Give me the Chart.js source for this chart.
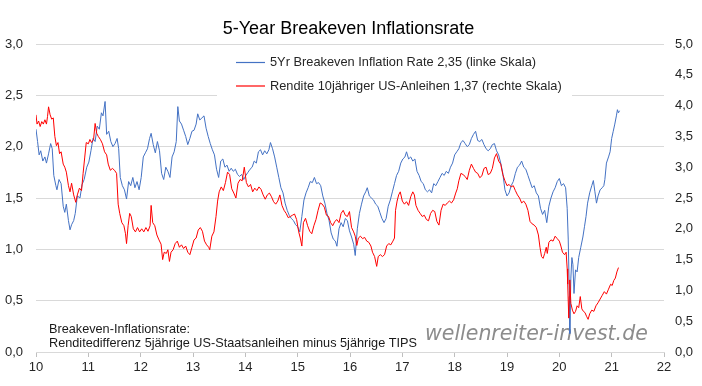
<!DOCTYPE html>
<html lang="de">
<head>
  <meta charset="UTF-8" />
  <title>5-Year Breakeven Inflationsrate</title>
  <style>
    body{margin:0;background:#fff}
    #wrap{width:702px;height:386px;position:relative}
    canvas{display:block}
  </style>
</head>
<body>
  <div id="wrap"><canvas id="chart"></canvas></div>

  <script src="https://cdn.jsdelivr.net/npm/chart.js"></script>
  <script>
  /* ---------- Daten ---------- */
  // 5Yr Breakeven Inflation Rate (linke Skala), x = Jahr (10 = 2010)
  const beDates = [10.00,10.03,10.06,10.09,10.13,10.17,10.20,10.24,10.28,10.31,10.34,10.38,10.40,10.44,10.48,10.52,10.55,10.58,10.62,10.65,
    10.68,10.72,10.75,10.79,10.84,10.88,10.92,10.97,11.01,11.05,11.09,11.13,11.17,11.21,11.25,11.28,11.32,11.35,11.39,11.43,
    11.47,11.51,11.55,11.58,11.61,11.65,11.69,11.73,11.77,11.81,11.85,11.89,11.93,11.97,12.01,12.05,12.09,12.13,12.17,12.20,
    12.24,12.28,12.32,12.36,12.40,12.44,12.48,12.52,12.56,12.60,12.64,12.68,12.71,12.74,12.78,12.82,12.86,12.90,12.94,12.98,
    13.02,13.06,13.09,13.13,13.17,13.21,13.25,13.29,13.33,13.37,13.41,13.45,13.49,13.53,13.57,13.61,13.65,13.69,13.73,13.77,
    13.81,13.85,13.89,13.93,13.97,14.01,14.05,14.09,14.13,14.17,14.21,14.25,14.29,14.33,14.37,14.41,14.45,14.48,14.52,14.56,
    14.60,14.64,14.68,14.72,14.76,14.80,14.84,14.88,14.92,14.96,15.00,15.04,15.08,15.12,15.16,15.20,15.24,15.28,15.32,15.36,
    15.40,15.44,15.48,15.52,15.56,15.60,15.64,15.68,15.72,15.75,15.79,15.83,15.87,15.91,15.95,15.99,16.03,16.07,16.10,16.14,
    16.18,16.22,16.26,16.30,16.33,16.37,16.41,16.45,16.49,16.53,16.57,16.61,16.65,16.69,16.73,16.77,16.81,16.85,16.89,16.93,
    16.97,17.01,17.05,17.08,17.12,17.16,17.20,17.24,17.28,17.32,17.36,17.40,17.44,17.48,17.52,17.56,17.60,17.64,17.68,17.72,
    17.76,17.80,17.84,17.88,17.92,17.96,18.00,18.04,18.08,18.12,18.16,18.20,18.24,18.28,18.32,18.36,18.40,18.44,18.48,18.52,
    18.56,18.60,18.64,18.68,18.72,18.76,18.80,18.84,18.88,18.92,18.96,19.00,19.04,19.08,19.12,19.16,19.20,19.24,19.28,19.32,
    19.36,19.40,19.44,19.48,19.52,19.56,19.60,19.64,19.68,19.72,19.76,19.80,19.84,19.88,19.92,19.96,20.00,20.04,20.08,20.12,
    20.15,20.17,20.19,20.20,20.22,20.24,20.26,20.28,20.31,20.34,20.37,20.41,20.45,20.48,20.51,20.54,20.58,20.62,20.65,20.68,
    20.71,20.74,20.78,20.82,20.85,20.87,20.90,20.94,20.97,21.00,21.03,21.06,21.09,21.11,21.13,21.15];
  const beValues = [2.17,2.05,1.92,1.96,1.86,1.90,1.84,1.93,2.03,1.98,1.72,1.62,1.58,1.68,1.64,1.42,1.36,1.44,1.28,1.19,
    1.24,1.28,1.35,1.52,1.50,1.63,1.68,1.80,1.85,1.96,2.08,2.05,2.20,2.17,2.33,2.30,2.44,2.12,2.15,2.05,
    2.00,2.03,2.08,1.98,1.70,1.62,1.58,1.49,1.66,1.62,1.70,1.60,1.66,1.58,1.70,1.90,1.94,1.98,2.08,2.13,
    2.02,1.94,2.05,1.96,1.74,1.68,1.80,1.76,1.70,1.90,1.95,2.05,2.39,2.25,2.22,2.16,2.10,2.02,2.08,2.15,
    2.16,2.22,2.32,2.26,2.28,2.30,2.18,2.10,2.03,1.97,1.92,1.78,1.70,1.86,1.88,1.80,1.82,1.76,1.79,1.76,
    1.78,1.73,1.71,1.73,1.68,1.72,1.75,1.78,1.80,1.86,1.84,1.95,1.97,1.92,1.96,1.93,1.97,2.04,1.98,1.90,
    1.80,1.70,1.60,1.55,1.45,1.38,1.33,1.30,1.28,1.24,1.22,1.17,1.32,1.48,1.55,1.60,1.66,1.65,1.70,1.64,
    1.65,1.62,1.52,1.45,1.35,1.28,1.16,1.10,1.08,1.03,1.20,1.26,1.22,1.30,1.28,1.18,1.12,1.05,0.94,1.20,
    1.35,1.44,1.52,1.56,1.60,1.52,1.50,1.48,1.44,1.42,1.36,1.30,1.26,1.30,1.42,1.48,1.56,1.64,1.72,1.76,
    1.84,1.88,1.90,1.95,1.88,1.90,1.86,1.88,1.76,1.72,1.66,1.64,1.58,1.56,1.58,1.55,1.64,1.62,1.66,1.70,
    1.74,1.72,1.76,1.74,1.80,1.84,1.92,1.95,1.98,2.04,2.06,2.03,2.00,2.02,2.08,2.12,2.15,2.06,2.05,2.07,
    2.02,1.98,1.96,1.98,2.02,2.03,1.96,1.92,1.84,1.74,1.58,1.52,1.55,1.62,1.66,1.74,1.80,1.82,1.86,1.80,
    1.78,1.72,1.66,1.60,1.62,1.55,1.52,1.40,1.34,1.38,1.26,1.42,1.50,1.56,1.60,1.66,1.69,1.62,1.64,1.60,
    1.40,1.10,0.60,0.18,0.72,0.92,0.85,0.57,0.80,0.78,0.92,1.02,1.12,1.22,1.32,1.45,1.55,1.62,1.67,1.56,
    1.45,1.52,1.58,1.60,1.62,1.68,1.84,1.90,1.95,2.08,2.15,2.22,2.30,2.36,2.33,2.35];

  // Rendite 10jähriger US-Anleihen (rechte Skala)
  const ylDates = [10.00,10.02,10.05,10.08,10.11,10.14,10.17,10.20,10.22,10.24,10.27,10.30,10.33,10.36,10.39,10.42,10.45,10.48,10.52,10.55,
    10.58,10.62,10.65,10.68,10.72,10.76,10.79,10.83,10.87,10.90,10.93,10.96,11.00,11.03,11.06,11.10,11.13,11.16,11.19,11.23,
    11.27,11.31,11.35,11.38,11.42,11.46,11.50,11.54,11.57,11.60,11.64,11.68,11.71,11.73,11.76,11.79,11.82,11.86,11.90,11.94,
    11.98,12.02,12.06,12.10,12.14,12.18,12.20,12.23,12.27,12.31,12.35,12.39,12.42,12.45,12.49,12.52,12.55,12.58,12.62,12.66,
    12.70,12.74,12.78,12.82,12.86,12.90,12.94,12.98,13.02,13.06,13.10,13.14,13.18,13.22,13.26,13.30,13.32,13.36,13.40,13.44,
    13.47,13.50,13.54,13.58,13.62,13.66,13.70,13.74,13.78,13.82,13.86,13.90,13.94,13.98,14.02,14.06,14.10,14.14,14.18,14.22,
    14.26,14.30,14.34,14.38,14.42,14.46,14.50,14.54,14.58,14.62,14.66,14.70,14.74,14.78,14.82,14.86,14.90,14.94,14.98,15.02,
    15.05,15.08,15.11,15.15,15.19,15.23,15.27,15.31,15.35,15.39,15.43,15.47,15.51,15.55,15.59,15.63,15.67,15.71,15.75,15.79,
    15.83,15.87,15.91,15.95,15.99,16.03,16.07,16.10,16.13,16.16,16.20,16.24,16.28,16.32,16.36,16.40,16.43,16.47,16.51,16.54,
    16.58,16.62,16.66,16.70,16.74,16.78,16.82,16.85,16.87,16.90,16.93,16.96,17.00,17.04,17.08,17.12,17.16,17.20,17.23,17.26,
    17.30,17.34,17.38,17.42,17.46,17.50,17.54,17.58,17.62,17.66,17.70,17.74,17.78,17.82,17.86,17.90,17.94,17.98,18.02,18.05,
    18.08,18.12,18.16,18.20,18.24,18.28,18.32,18.36,18.40,18.44,18.48,18.52,18.56,18.60,18.64,18.68,18.72,18.76,18.80,18.84,
    18.88,18.92,18.96,19.00,19.04,19.08,19.12,19.16,19.20,19.24,19.28,19.32,19.36,19.40,19.44,19.48,19.52,19.56,19.60,19.63,
    19.66,19.69,19.72,19.75,19.77,19.80,19.84,19.88,19.92,19.96,20.00,20.03,20.06,20.10,20.13,20.15,20.16,20.18,20.19,20.20,
    20.22,20.25,20.28,20.31,20.34,20.37,20.40,20.43,20.46,20.49,20.52,20.55,20.58,20.62,20.66,20.70,20.74,20.78,20.82,20.86,
    20.90,20.94,20.98,21.01,21.04,21.07,21.10,21.13];
  const ylValues = [3.85,3.70,3.75,3.66,3.74,3.70,3.77,3.70,3.82,3.98,3.85,3.78,3.80,3.50,3.35,3.40,3.22,3.25,3.05,3.00,
    2.92,2.70,2.60,2.74,2.55,2.43,2.55,2.66,2.62,2.90,3.15,3.40,3.38,3.45,3.40,3.45,3.71,3.55,3.50,3.45,
    3.38,3.25,3.20,3.05,2.95,2.98,2.95,2.90,2.40,2.25,2.10,2.05,1.92,1.76,2.05,2.25,2.20,2.00,1.95,2.02,
    1.95,2.00,1.95,2.02,1.96,2.05,2.38,2.10,2.05,1.90,1.82,1.75,1.50,1.62,1.60,1.66,1.47,1.62,1.66,1.76,
    1.80,1.70,1.74,1.68,1.72,1.62,1.58,1.70,1.82,1.85,1.98,2.02,1.96,1.80,1.74,1.70,1.66,1.88,1.95,2.20,
    2.45,2.60,2.68,2.62,2.75,2.92,2.88,2.65,2.58,2.50,2.74,2.80,2.78,3.00,2.75,2.68,2.72,2.60,2.66,2.62,
    2.68,2.64,2.55,2.48,2.55,2.58,2.52,2.44,2.40,2.45,2.55,2.38,2.30,2.25,2.18,2.20,2.22,2.24,2.15,1.95,
    1.85,1.72,2.10,2.17,2.05,1.96,1.92,2.05,2.15,2.30,2.42,2.40,2.35,2.22,2.20,2.10,2.05,2.12,2.15,2.10,
    2.25,2.30,2.22,2.20,2.28,2.02,1.95,1.88,1.73,1.85,1.88,1.84,1.86,1.80,1.78,1.72,1.62,1.55,1.39,1.55,
    1.58,1.55,1.58,1.72,1.76,1.74,1.80,1.85,2.30,2.45,2.55,2.60,2.45,2.40,2.44,2.38,2.52,2.60,2.55,2.38,
    2.30,2.25,2.20,2.22,2.15,2.13,2.25,2.30,2.28,2.12,2.06,2.30,2.40,2.38,2.42,2.45,2.42,2.47,2.58,2.65,
    2.78,2.90,2.88,2.85,2.80,2.95,3.05,2.98,2.92,2.90,2.83,2.86,2.98,3.00,2.88,2.90,2.98,3.15,3.22,3.10,
    3.05,2.88,2.78,2.70,2.72,2.68,2.70,2.62,2.55,2.50,2.42,2.45,2.40,2.30,2.12,2.08,2.06,2.02,1.90,1.70,
    1.55,1.52,1.60,1.70,1.60,1.78,1.82,1.80,1.88,1.84,1.80,1.72,1.62,1.58,1.62,1.35,1.10,0.55,0.90,1.17,
    0.79,0.68,0.62,0.66,0.75,0.72,0.90,0.70,0.66,0.64,0.58,0.53,0.62,0.68,0.66,0.75,0.80,0.86,0.92,0.98,
    0.94,1.02,1.10,1.08,1.16,1.20,1.30,1.37];

  const titleText = '5-Year Breakeven Inflationsrate';
  const legendLabels = ['5Yr Breakeven Inflation Rate 2,35 (linke Skala)',
                        'Rendite 10jähriger US-Anleihen 1,37 (rechte Skala)'];
  const noteLines = ['Breakeven-Inflationsrate:',
                     'Renditedifferenz 5jährige US-Staatsanleihen minus 5jährige TIPS'];
  const watermark = 'wellenreiter-invest.de';

  const BLUE = '#4472C4', RED = '#FF0000';
  const FONT = "'Liberation Sans', Arial, sans-serif";
  const fmt = v => v.toFixed(1).replace('.', ',');

  /* ---------- Deko: Titel, Legende, Hinweis, Wasserzeichen ---------- */
  const decor = {
    id: 'decor',
    beforeDraw(c) {
      const g = c.ctx;
      g.save(); g.fillStyle = '#fff'; g.fillRect(0, 0, c.width, c.height); g.restore();
    },
    beforeDatasetsDraw(c) {
      const g = c.ctx;
      g.save();
      // Legendenkasten deckt Gitterlinien ab
      g.fillStyle = '#fff';
      g.fillRect(217, 50, 355, 49);
      const rows = [[BLUE, 62.5], [RED, 86]];
      rows.forEach(([col, y], i) => {
        g.strokeStyle = col; g.lineWidth = 1.2;
        g.beginPath(); g.moveTo(236, y); g.lineTo(265, y); g.stroke();
        g.fillStyle = '#262626'; g.font = '12.8px ' + FONT;
        g.textBaseline = 'middle'; g.textAlign = 'left';
        g.fillText(legendLabels[i], 270, y);
      });
      // Wasserzeichen
      g.fillStyle = '#8c8c8c';
      g.font = "oblique 20.5px 'DejaVu Sans', Verdana, sans-serif";
      g.textBaseline = 'alphabetic';
      g.fillText(watermark, 425, 340);
      g.restore();
    },
    afterDraw(c) {
      const g = c.ctx;
      g.save();
      g.fillStyle = '#000';
      g.font = '18px ' + FONT;
      g.textAlign = 'center'; g.textBaseline = 'alphabetic';
      g.fillText(titleText, 348.5, 34);
      g.font = '12.7px ' + FONT;
      g.textAlign = 'left';
      g.fillStyle = '#1a1a1a';
      g.fillText(noteLines[0], 49, 333);
      g.fillText(noteLines[1], 49, 346.5);
      g.restore();
    }
  };

  /* ---------- Chart.js ---------- */
  const ctx = document.getElementById('chart').getContext('2d');
  new Chart(ctx, {
    type: 'line',
    data: {
      datasets: [
        { label: legendLabels[1], data: ylDates.map((d, i) => ({ x: d, y: ylValues[i] })),
          yAxisID: 'yR', borderColor: RED, borderWidth: 1, pointRadius: 0, tension: 0 },
        { label: legendLabels[0], data: beDates.map((d, i) => ({ x: d, y: beValues[i] })),
          yAxisID: 'yL', borderColor: BLUE, borderWidth: 1, pointRadius: 0, tension: 0 }
      ]
    },
    options: {
      animation: false, responsive: true, maintainAspectRatio: false,
      layout: { padding: { top: 44, left: 0, right: 0, bottom: 0 } },
      plugins: { legend: { display: false }, tooltip: { enabled: false } },
      scales: {
        x: {
          type: 'linear', min: 10, max: 22,
          afterFit: s => { s.height = 34; },
          ticks: { stepSize: 1, color: '#262626', padding: 3, font: { family: FONT, size: 13 } },
          grid: { drawOnChartArea: false, drawTicks: true, tickLength: 5, color: '#bfbfbf' },
          border: { color: '#d9d9d9' }
        },
        yL: {
          position: 'left', min: 0, max: 3,
          afterFit: s => { s.width = 36; },
          ticks: { stepSize: 0.5, padding: 13, color: '#262626', font: { family: FONT, size: 13 }, callback: fmt },
          grid: { color: '#d9d9d9', drawTicks: false },
          border: { display: false }
        },
        yR: {
          position: 'right', min: 0, max: 5,
          afterFit: s => { s.width = 38; },
          ticks: { stepSize: 0.5, padding: 11, color: '#262626', font: { family: FONT, size: 13 }, callback: fmt },
          grid: { display: false, drawTicks: false },
          border: { display: false }
        }
      }
    },
    plugins: [decor]
  });
  </script>
</body>
</html>
